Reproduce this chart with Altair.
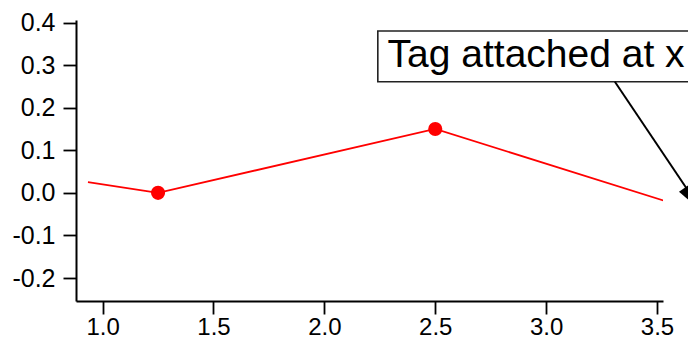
import altair as alt
import pandas as pd

# trace (continues past the right edge of the axis; clipped there)
trace_x = [0.934, 1.25, 2.5, 3.75]
trace_y = [0.025, 0.0, 0.15, -0.054]

# markers
marker_x = [1.25, 2.5]
marker_y = [0.0, 0.15]

# axis ticks
x_ticks = [1.0, 1.5, 2.0, 2.5, 3.0, 3.5]
y_ticks = [-0.2, -0.1, 0.0, 0.1, 0.2, 0.3, 0.4]
x_domain = [0.88, 3.527]
y_domain = [-0.254, 0.406]

# tag annotation
tag_text = ["Tag attached at x"]
tag_attach_x = [3.705]
tag_attach_y = [-0.045]
tag_box_x = [2.241]
tag_box_x2 = [3.95]
tag_box_y = [0.380]
tag_box_y2 = [0.261]
tag_text_x = [2.285]
tag_text_y = [0.2965]
arrow_start_x = [3.31]
arrow_start_y = [0.261]

trace = pd.DataFrame({"x": trace_x, "y": trace_y})
markers = pd.DataFrame({"x": marker_x, "y": marker_y})
tag = pd.DataFrame({
    "text": tag_text,
    "ax": tag_attach_x, "ay": tag_attach_y,
    "bx": tag_box_x, "bx2": tag_box_x2, "by": tag_box_y, "by2": tag_box_y2,
    "tx": tag_text_x, "ty": tag_text_y,
    "sx": arrow_start_x, "sy": arrow_start_y,
})

FONT = "Liberation Sans"
label_expr = "datum.value < 0 ? '-' + format(-datum.value, '.1f') : format(datum.value, '.1f')"

xs = alt.Scale(domain=x_domain, nice=False, zero=False)
ys = alt.Scale(domain=y_domain, nice=False, zero=False)

x_axis = alt.Axis(values=x_ticks, labelExpr=label_expr, title=None, grid=False,
                  tickSize=13, labelPadding=1, labelAlign="center", labelFontSize=24)
y_axis = alt.Axis(values=y_ticks, labelExpr=label_expr, title=None, grid=False,
                  tickSize=13, labelPadding=8)

line = alt.Chart(trace).mark_line(color="#ff0000", strokeWidth=1.8, clip=True).encode(
    x=alt.X("x:Q", scale=xs, axis=x_axis),
    y=alt.Y("y:Q", scale=ys, axis=y_axis),
)

points = alt.Chart(markers).mark_circle(color="#ff0000", size=200, opacity=1).encode(
    x=alt.X("x:Q", scale=xs),
    y=alt.Y("y:Q", scale=ys),
)

base = alt.Chart(tag)

box = base.mark_rect(fill="white", stroke="#222222", strokeWidth=1.6).encode(
    x=alt.X("bx:Q", scale=xs), x2="bx2:Q",
    y=alt.Y("by:Q", scale=ys), y2="by2:Q",
)

text = base.mark_text(align="left", baseline="alphabetic", font=FONT, fontSize=39,
                      color="black").encode(
    x=alt.X("tx:Q", scale=xs),
    y=alt.Y("ty:Q", scale=ys),
    text="text:N",
)

arrow_line = base.mark_rule(color="black", strokeWidth=2).encode(
    x=alt.X("sx:Q", scale=xs), x2="ax:Q",
    y=alt.Y("sy:Q", scale=ys), y2="ay:Q",
)

arrow_head = base.mark_point(shape="M0,0L-0.27,-1L0.27,-1Z", filled=True, color="black",
                             opacity=1, size=3600, angle=326).encode(
    x=alt.X("ax:Q", scale=xs),
    y=alt.Y("ay:Q", scale=ys),
)

chart = alt.layer(line, points, box, arrow_line, arrow_head, text).properties(
    width=587, height=281,
    padding={"left": 68, "top": 12, "right": 25, "bottom": 38},
    autosize=alt.AutoSizeParams(type="none"),
).configure_view(stroke=None).configure_axis(
    domainColor="black", domainWidth=2, tickColor="black", tickWidth=1.8,
    labelFont=FONT, labelFontSize=25, labelColor="black",
)

chart.save("out.html", embed_options={"renderer": "svg", "actions": False})
